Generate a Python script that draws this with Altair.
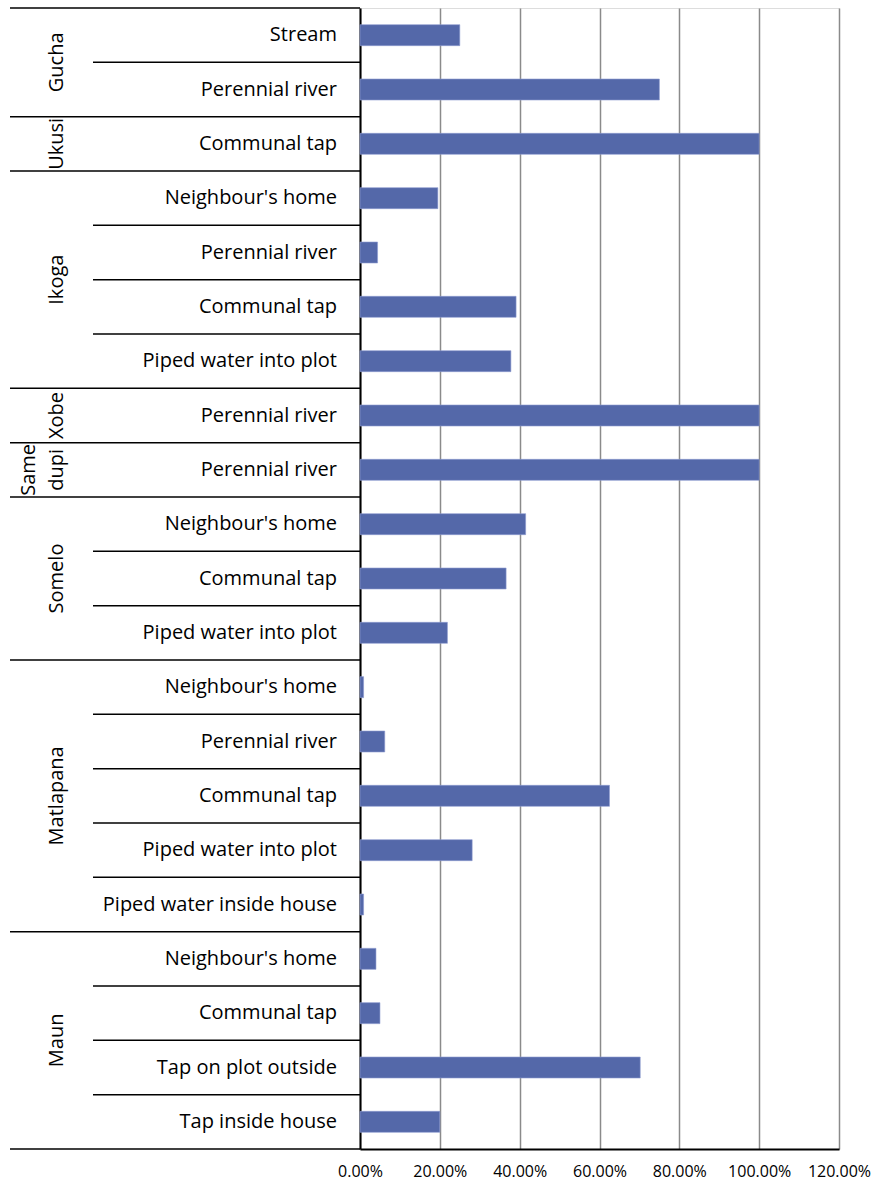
import altair as alt
import pandas as pd

groups = ["Gucha", "Gucha", "Ukusi", "Ikoga", "Ikoga", "Ikoga", "Ikoga",
          "Xobe", "Same\ndupi", "Somelo", "Somelo", "Somelo",
          "Matlapana", "Matlapana", "Matlapana", "Matlapana", "Matlapana",
          "Maun", "Maun", "Maun", "Maun"]
categories = ["Stream", "Perennial river", "Communal tap",
              "Neighbour's home", "Perennial river", "Communal tap", "Piped water into plot",
              "Perennial river", "Perennial river",
              "Neighbour's home", "Communal tap", "Piped water into plot",
              "Neighbour's home", "Perennial river", "Communal tap", "Piped water into plot",
              "Piped water inside house",
              "Neighbour's home", "Communal tap", "Tap on plot outside", "Tap inside house"]
values = [0.25, 0.75, 1.00,
          0.195, 0.044, 0.391, 0.378,
          1.00, 1.00,
          0.415, 0.366, 0.219,
          0.009, 0.062, 0.625, 0.281, 0.009,
          0.040, 0.050, 0.702, 0.200]
x_ticks = [0, 0.2, 0.4, 0.6, 0.8, 1.0, 1.2]

n = len(categories)
rows = pd.DataFrame({"group": groups, "category": categories, "value": values})
rows["row"] = range(n)
rows["mid"] = rows["row"] + 0.5

bounds = []
for k in range(n + 1):
    kind = "group" if (k == 0 or k == n or groups[k] != groups[k - 1]) else "inner"
    bounds.append({"pos": k, "kind": kind})
bounds = pd.DataFrame(bounds)

grp = rows.groupby("group", sort=False)["row"].agg(["min", "max"]).reset_index()
grp["center"] = (grp["min"] + grp["max"] + 1) / 2
grp_single = grp[~grp["group"].str.contains("\n")]
grp_multi = grp[grp["group"].str.contains("\n")]

FONT = "Open Sans"
FS = 20
yscale = alt.Scale(domain=[0, n], reverse=True, nice=False, zero=False, padding=0)
xscale = alt.Scale(domain=[0, 1.2], nice=False)

bars = alt.Chart(rows).mark_bar(orient="horizontal", height=21, color="#5468A9",
                                stroke="#8d9bd0", strokeWidth=0.6).encode(
    x=alt.X("value:Q", scale=xscale,
            axis=alt.Axis(values=x_ticks, format=".2%", title=None, grid=True,
                          gridColor="#8a8a8a", gridWidth=1.5, domainColor="black",
                          domainWidth=2, ticks=False, labelPadding=14,
                          labelOverlap=False, labelFlush=False,
                          labelFontSize=16, labelFont=FONT, labelColor="black")),
    y=alt.Y("mid:Q", scale=yscale,
            axis=alt.Axis(title=None, labels=False, ticks=False, grid=False,
                          domainColor="black", domainWidth=2)),
)

cat_text = alt.Chart(rows).mark_text(align="right", baseline="middle", fontSize=FS,
                                     font=FONT, color="black").encode(
    x=alt.value(-23), y=alt.Y("mid:Q", scale=yscale), text="category:N")

inner_rules = alt.Chart(bounds[bounds["kind"] == "inner"]).mark_rule(
    color="black", strokeWidth=1.5).encode(
    x=alt.value(-267), x2=alt.value(0), y=alt.Y("pos:Q", scale=yscale))

group_rules = alt.Chart(bounds[bounds["kind"] == "group"]).mark_rule(
    color="black", strokeWidth=1.5).encode(
    x=alt.value(-350), x2=alt.value(0), y=alt.Y("pos:Q", scale=yscale))

grp_text = alt.Chart(grp_single).mark_text(angle=270, align="center", baseline="middle",
                                           fontSize=FS, font=FONT, color="black").encode(
    x=alt.value(-303), y=alt.Y("center:Q", scale=yscale), text="group:N")

grp_text2 = alt.Chart(grp_multi).mark_text(angle=270, align="center", baseline="middle",
                                           fontSize=FS, font=FONT, color="black",
                                           lineBreak="\n", lineHeight=28).encode(
    x=alt.value(-331), y=alt.Y("center:Q", scale=yscale), text="group:N")

chart = alt.layer(bars, inner_rules, group_rules, cat_text, grp_text, grp_text2).properties(
    width=479, height=1141,
    autosize=alt.AutoSizeParams(type="none"),
    padding={"left": 360, "top": 8, "right": 38, "bottom": 38},
).configure_view(stroke=None).configure(background="white")

chart.save("out.html", embed_options={"renderer": "svg", "actions": False})
